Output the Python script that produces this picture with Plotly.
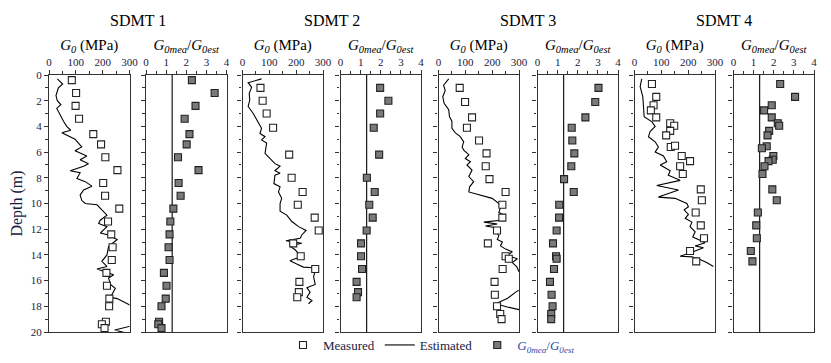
import plotly.graph_objects as go

# SDMT 1
S1_DEPTH = [0.4, 1.4, 2.4, 3.4, 4.6, 5.4, 6.4, 7.4, 8.4, 9.4, 10.4, 11.4, 12.4, 13.4,
            14.4, 15.4, 16.4, 17.4, 18.0, 19.2, 19.4, 19.7]
S1_G0 = [85, 101, 99, 112, 165, 194, 210, 255, 202, 209, 262, 220, 232, 237,
         234, 214, 216, 225, 224, 212, 197, 207]
S1_RATIO = [2.28, 3.41, 2.46, 1.92, 2.16, 2.02, 1.59, 2.61, 1.62, 1.72, 1.36, 1.21, 1.17, 1.12,
            1.17, 0.89, 1.02, 0.98, 0.77, 0.65, 0.61, 0.77]
S1_EST_DEPTH = [0.3, 0.7, 1.0, 1.6, 2.0, 2.3, 2.6, 3.1, 3.6, 4.0, 4.3, 4.5, 4.8, 5.0, 5.6, 5.9,
                6.3, 6.6, 6.9, 7.1, 7.45, 7.6, 8.05, 8.3, 8.65, 8.95, 9.35, 9.75, 10.0, 10.1,
                10.5, 10.9, 11.3, 11.55, 11.8, 12.3, 12.45, 12.8, 13.35, 14.0, 14.5, 14.9,
                15.1, 15.55, 15.8, 16.3, 16.6, 17.3, 17.4, 17.9, 18.2, 19.4, 19.85, 20.3]
S1_EST_G0 = [31, 51, 35, 26, 31, 44, 29, 41, 54, 66, 81, 48, 76, 97, 122, 97,
             141, 116, 147, 129, 79, 116, 104, 135, 160, 129, 116, 122, 135, 179,
             197, 216, 191, 185, 216, 191, 222, 254, 222, 216, 197, 216,
             179, 241, 222, 229, 247, 229, 254, 297, 330, 330, 245, 330]

# SDMT 2
S2_DEPTH = [1.0, 2.0, 3.0, 4.1, 6.2, 8.0, 9.1, 10.1, 11.1, 12.1, 13.1, 14.1, 15.1, 16.1, 16.9, 17.3]
S2_G0 = [67, 75, 90, 114, 174, 183, 224, 206, 269, 284, 189, 217, 271, 212, 210, 204]
S2_RATIO = [1.97, 2.38, 1.97, 1.65, 1.92, 1.31, 1.70, 1.43, 1.60, 1.30, 1.02, 1.02, 1.07, 0.80, 0.87, 0.80]
S2_EST_DEPTH = [0.3, 0.6, 0.95, 1.45, 1.95, 2.45, 3.0, 3.65, 4.15, 4.55, 4.8, 5.05, 5.3, 6.1, 6.5,
                6.9, 7.1, 7.45, 7.65, 7.8, 8.45, 8.7, 9.1, 9.6, 10.0, 10.6, 10.9, 11.4, 11.8, 12.1,
                12.45, 12.7, 12.9, 13.1, 13.3, 13.6, 13.9, 14.1, 14.3, 14.45, 14.7, 14.95, 15.0,
                15.2, 15.7, 16.3, 16.55, 16.9, 17.3, 17.55, 17.8]
S2_EST_G0 = [71, 21, 34, 25, 27, 21, 40, 59, 71, 65, 84, 71, 90, 84, 102,
             121, 140, 121, 140, 121, 117, 140, 134, 146, 140, 140, 165, 184, 209, 237,
             221, 215, 162, 221, 175, 196, 209, 227, 196, 177, 202, 227, 265,
             271, 265, 271, 240, 252, 240, 259, 246]

# SDMT 3
S3_DEPTH = [1.0, 2.1, 3.3, 4.1, 5.1, 6.1, 7.1, 8.1, 9.1, 10.1, 11.1, 12.1, 13.1, 14.1, 14.3,
            15.1, 16.1, 17.1, 18.0, 18.6, 19.0]
S3_G0 = [79, 99, 125, 106, 151, 179, 176, 190, 250, 238, 238, 218, 184, 250, 262,
         239, 209, 210, 218, 230, 235]
S3_RATIO = [3.03, 2.87, 2.38, 1.70, 1.73, 1.83, 1.68, 1.32, 1.80, 1.08, 1.07, 0.95, 0.77, 0.92, 0.95,
            0.82, 0.62, 0.70, 0.75, 0.68, 0.68]
S3_EST_DEPTH = [0.3, 0.8, 1.2, 1.7, 2.2, 2.7, 3.25, 3.6, 4.15, 4.5, 4.8, 5.2, 5.6, 5.85, 6.2,
                6.5, 6.75, 7.0, 7.4, 7.9, 8.3, 8.7, 9.1, 9.6, 10.0, 10.3, 10.7, 10.9, 11.3, 11.45,
                11.6, 11.75, 11.9, 12.2, 12.5, 12.8, 13.0, 13.3, 13.55, 13.75, 14.05, 14.3, 14.6,
                14.9, 15.3, 15.8, 16.6, 16.8, 17.4, 17.8, 18.05, 18.2, 18.4, 20.0]
S3_EST_G0 = [38, 19, 25, 16, 21, 38, 41, 50, 50, 63, 81, 94, 88, 94, 113,
             100, 119, 106, 125, 113, 131, 116, 113, 200, 225, 231, 225, 244, 231, 169,
             219, 175, 219, 213, 225, 219, 238, 231, 250, 275, 256, 294, 275,
             291, 300, 330, 330, 294, 256, 213, 256, 294, 330, 330]

# SDMT 4
S4_DEPTH = [0.7, 1.7, 2.35, 2.75, 3.3, 3.75, 3.95, 4.35, 4.7, 5.6, 5.5, 6.3, 6.7, 7.1, 7.7,
            8.9, 9.75, 10.7, 11.7, 12.7, 13.7, 14.5]
S4_G0 = [65, 81, 71, 61, 81, 133, 148, 133, 118, 135, 151, 176, 207, 170, 180,
         247, 251, 228, 247, 259, 207, 230]
S4_RATIO_DEPTH = [0.7, 1.7, 2.35, 2.75, 3.3, 3.75, 3.95, 4.35, 4.7, 5.55, 5.7, 6.3, 6.6, 6.7, 7.1,
                  7.7, 8.9, 9.75, 10.7, 11.7, 12.7, 13.7, 14.5]
S4_RATIO = [2.32, 3.06, 1.90, 1.52, 1.90, 2.20, 2.27, 1.77, 1.69, 1.65, 1.41, 1.98, 1.95, 1.74, 1.54,
            1.44, 1.93, 2.15, 1.21, 1.13, 1.16, 0.86, 0.94]
S4_EST_DEPTH = [0.3, 0.9, 1.7, 2.5, 3.25, 3.65, 4.0, 4.4, 4.8, 5.2, 5.6, 6.0, 6.3, 6.75, 7.0,
                7.45, 7.8, 8.2, 8.6, 8.95, 9.5, 9.6, 10.0, 10.25, 10.5, 10.85, 11.15, 11.45, 11.8,
                12.2, 12.6, 12.85, 13.05, 13.3, 13.45, 13.8, 14.1, 14.15, 14.3, 14.6, 14.9]
S4_EST_G0 = [27, 21, 31, 34, 36, 65, 77, 58, 52, 77, 89, 77, 108, 120, 96,
             133, 126, 170, 83, 164, 89, 151, 195, 201, 185, 201, 189, 214, 207,
             226, 217, 242, 263, 226, 257, 214, 170, 214, 238, 269, 294]

SITES = ['SDMT 1', 'SDMT 2', 'SDMT 3', 'SDMT 4']
RATIO_LIMIT = 1.3
DEPTH_RANGE = [20, 0]

measured = [(S1_DEPTH, S1_G0), (S2_DEPTH, S2_G0), (S3_DEPTH, S3_G0), (S4_DEPTH, S4_G0)]
ratios = [(S1_DEPTH, S1_RATIO), (S2_DEPTH, S2_RATIO), (S3_DEPTH, S3_RATIO), (S4_RATIO_DEPTH, S4_RATIO)]
estimated = [(S1_EST_DEPTH, S1_EST_G0), (S2_EST_DEPTH, S2_EST_G0),
             (S3_EST_DEPTH, S3_EST_G0), (S4_EST_DEPTH, S4_EST_G0)]

SERIF = 'Liberation Serif'
TEXT = '#1a2040'
AXIS = '#333333'

# The page body keeps its default 8px margin, so the figure is drawn 8px in
# from the top-left corner of the window; size it to fit inside 831 x 363.
PAGE_PAD = 8
FIG_W, FIG_H = 831 - 2 * PAGE_PAD, 363 - 2 * PAGE_PAD
L, T = 49 - PAGE_PAD, 75 - PAGE_PAD
W, H = 765, 257
R, B = FIG_W - L - W, FIG_H - T - H
PANEL_LEFT = [49, 146, 242.5, 340.5, 438.5, 537.5, 634.5, 733.5]
PANEL_W = 80.5
domains = [[(p - 49) / W, min(1.0, (p - 49 + PANEL_W) / W)] for p in PANEL_LEFT]

G0_TITLE = '<i>G</i><sub><i>0</i></sub> (MPa)'
RATIO_TITLE = '<i>G</i><sub><i>0mea</i></sub>/<i>G</i><sub><i>0est</i></sub>'

fig = go.Figure()
layout = {}

for k in range(4):
    gi, ri = 2 * k + 1, 2 * k + 2
    d, g = measured[k]
    ed, eg = estimated[k]
    rd, rv = ratios[k]

    fig.add_trace(go.Scatter(
        x=eg, y=ed, mode='lines', name='Estimated', showlegend=(k == 0), legendrank=2,
        line=dict(color='black', width=1.1),
        xaxis=f'x{gi}', yaxis=f'y{gi}'))
    fig.add_trace(go.Scatter(
        x=g, y=d, mode='markers', name='Measured', showlegend=(k == 0), legendrank=1,
        marker=dict(symbol='square', size=7, color='white', line=dict(color='#222', width=1.1)),
        xaxis=f'x{gi}', yaxis=f'y{gi}'))
    fig.add_trace(go.Scatter(
        x=[RATIO_LIMIT, RATIO_LIMIT], y=DEPTH_RANGE, mode='lines', showlegend=False,
        line=dict(color='black', width=1.1), hoverinfo='skip',
        xaxis=f'x{ri}', yaxis=f'y{ri}'))
    fig.add_trace(go.Scatter(
        x=rv, y=rd, mode='markers', showlegend=(k == 0), legendrank=3,
        name=f'<span style="color:#2a4aa8">{RATIO_TITLE}</span>',
        marker=dict(symbol='square', size=7, color='#7a7a7a', line=dict(color='#222', width=1.1)),
        xaxis=f'x{ri}', yaxis=f'y{ri}'))

for i in range(1, 9):
    is_g0 = i % 2 == 1
    xa = dict(
        domain=domains[i - 1], anchor=f'y{i}', side='top', automargin=False,
        range=[0, 300] if is_g0 else [0, 4],
        dtick=100 if is_g0 else 1,
        showline=True, linecolor=AXIS, linewidth=1.2, mirror=True,
        ticks='outside', ticklen=4, tickcolor=AXIS,
        minor=dict(ticks='outside', ticklen=3, dtick=50 if is_g0 else 0.5, tickcolor=AXIS),
        showgrid=False, zeroline=False,
        tickfont=dict(family=SERIF, size=11, color=TEXT),
        title=dict(text=G0_TITLE if is_g0 else RATIO_TITLE, standoff=0,
                   font=dict(family=SERIF, size=15, color='black')),
    )
    ya = dict(
        domain=[0, 1], anchor=f'x{i}', range=DEPTH_RANGE, dtick=2, automargin=False,
        showline=True, linecolor=AXIS, linewidth=1.2, mirror=True,
        ticks='outside', ticklen=4, tickcolor=AXIS,
        minor=dict(ticks='outside', ticklen=2.5, dtick=1, tickcolor=AXIS),
        showgrid=False, zeroline=False, showticklabels=(i == 1),
        tickfont=dict(family=SERIF, size=11, color=TEXT),
    )
    if i == 1:
        ya['title'] = dict(text='Depth (m)', standoff=8,
                           font=dict(family=SERIF, size=16, color=TEXT))
    layout['xaxis' if i == 1 else f'xaxis{i}'] = xa
    layout['yaxis' if i == 1 else f'yaxis{i}'] = ya

annotations = []
for k, site in enumerate(SITES):
    cx = (domains[2 * k][0] + domains[2 * k + 1][1]) / 2
    annotations.append(dict(
        text=site, x=cx, y=1 + (75 - 20) / H, xref='paper', yref='paper',
        xanchor='center', yanchor='middle', showarrow=False,
        font=dict(family=SERIF, size=16, color='black')))

fig.update_layout(
    **layout,
    annotations=annotations,
    width=FIG_W, height=FIG_H,
    margin=dict(l=L, r=R, t=T, b=B, autoexpand=False),
    paper_bgcolor='white', plot_bgcolor='white',
    font=dict(family=SERIF, size=13, color=TEXT),
    legend=dict(orientation='h', x=0.5, xanchor='center',
                y=(332 - 345) / H, yanchor='middle',
                font=dict(family=SERIF, size=13, color=TEXT),
                bgcolor='rgba(0,0,0,0)', itemwidth=30, tracegroupgap=0),
)

fig.write_html('out.html')
